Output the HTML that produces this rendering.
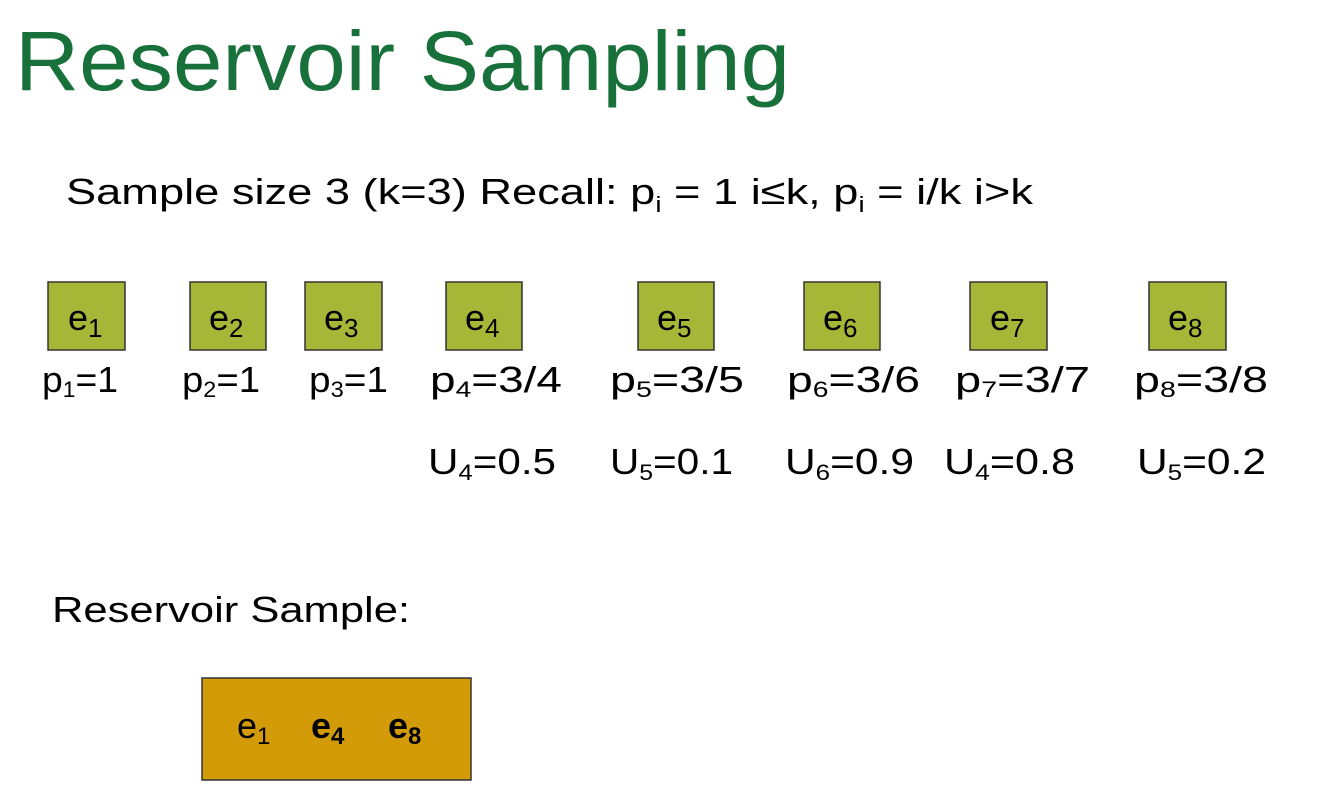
<!DOCTYPE html>
<html><head><meta charset="utf-8"><style>body{margin:0;background:#fff}svg{display:block}</style></head>
<body>
<svg width="1324" height="797" xmlns="http://www.w3.org/2000/svg" font-family="Liberation Sans, sans-serif">
<rect width="1324" height="797" fill="#fff"/>
<text x="15" y="90" font-size="84" fill="#18703a" textLength="775" lengthAdjust="spacingAndGlyphs">Reservoir Sampling</text>
<text x="66" y="204" font-size="36" fill="#000" textLength="967" lengthAdjust="spacingAndGlyphs">Sample size 3  (k=3)   Recall: p<tspan font-size="22" dy="8">i</tspan><tspan dy="-8"> = 1 i≤k, p</tspan><tspan font-size="22" dy="8">i</tspan><tspan dy="-8"> = i/k i&gt;k</tspan></text>
<g fill="#a6b738" stroke="#333" stroke-width="1.5">
<rect x="48" y="282" width="77" height="68"/>
<rect x="190" y="282" width="76" height="68"/>
<rect x="305" y="282" width="77" height="68"/>
<rect x="446" y="282" width="76" height="68"/>
<rect x="638" y="282" width="76" height="68"/>
<rect x="804" y="282" width="76" height="68"/>
<rect x="970" y="282" width="77" height="68"/>
<rect x="1149" y="282" width="77" height="68"/>
</g>
<g font-size="36" fill="#000">
<text x="68" y="330">e<tspan font-size="26" dy="7">1</tspan></text>
<text x="209" y="330">e<tspan font-size="26" dy="7">2</tspan></text>
<text x="324" y="330">e<tspan font-size="26" dy="7">3</tspan></text>
<text x="465" y="330">e<tspan font-size="26" dy="7">4</tspan></text>
<text x="657" y="330">e<tspan font-size="26" dy="7">5</tspan></text>
<text x="823" y="330">e<tspan font-size="26" dy="7">6</tspan></text>
<text x="990" y="330">e<tspan font-size="26" dy="7">7</tspan></text>
<text x="1168" y="330">e<tspan font-size="26" dy="7">8</tspan></text>
</g>
<g font-size="36" fill="#000" lengthAdjust="spacingAndGlyphs">
<text x="42" y="392" textLength="76" lengthAdjust="spacingAndGlyphs">p<tspan font-size="22" dy="5">1</tspan><tspan dy="-5">=1</tspan></text>
<text x="182" y="392" textLength="78" lengthAdjust="spacingAndGlyphs">p<tspan font-size="22" dy="5">2</tspan><tspan dy="-5">=1</tspan></text>
<text x="309" y="392" textLength="79" lengthAdjust="spacingAndGlyphs">p<tspan font-size="22" dy="5">3</tspan><tspan dy="-5">=1</tspan></text>
<text x="430" y="392" textLength="132" lengthAdjust="spacingAndGlyphs">p<tspan font-size="22" dy="5">4</tspan><tspan dy="-5">=3/4</tspan></text>
<text x="610" y="392" textLength="134" lengthAdjust="spacingAndGlyphs">p<tspan font-size="22" dy="5">5</tspan><tspan dy="-5">=3/5</tspan></text>
<text x="787" y="392" textLength="133" lengthAdjust="spacingAndGlyphs">p<tspan font-size="22" dy="5">6</tspan><tspan dy="-5">=3/6</tspan></text>
<text x="955" y="392" textLength="135" lengthAdjust="spacingAndGlyphs">p<tspan font-size="22" dy="5">7</tspan><tspan dy="-5">=3/7</tspan></text>
<text x="1134" y="392" textLength="134" lengthAdjust="spacingAndGlyphs">p<tspan font-size="22" dy="5">8</tspan><tspan dy="-5">=3/8</tspan></text>
<text x="428" y="474" textLength="128" lengthAdjust="spacingAndGlyphs">U<tspan font-size="22" dy="6">4</tspan><tspan dy="-6">=0.5</tspan></text>
<text x="610" y="474" textLength="123" lengthAdjust="spacingAndGlyphs">U<tspan font-size="22" dy="6">5</tspan><tspan dy="-6">=0.1</tspan></text>
<text x="785" y="474" textLength="129" lengthAdjust="spacingAndGlyphs">U<tspan font-size="22" dy="6">6</tspan><tspan dy="-6">=0.9</tspan></text>
<text x="944" y="474" textLength="131" lengthAdjust="spacingAndGlyphs">U<tspan font-size="22" dy="6">4</tspan><tspan dy="-6">=0.8</tspan></text>
<text x="1137" y="474" textLength="129" lengthAdjust="spacingAndGlyphs">U<tspan font-size="22" dy="6">5</tspan><tspan dy="-6">=0.2</tspan></text>
</g>
<text x="52" y="622" font-size="36" fill="#000" textLength="358" lengthAdjust="spacingAndGlyphs">Reservoir Sample:</text>
<rect x="202" y="678" width="269" height="102" fill="#d39b07" stroke="#333" stroke-width="1.5"/>
<g font-size="36" fill="#000">
<text x="237" y="738">e<tspan font-size="24" dy="6">1</tspan></text>
<text x="311" y="738" font-weight="bold">e<tspan font-size="24" dy="6">4</tspan></text>
<text x="388" y="738" font-weight="bold">e<tspan font-size="24" dy="6">8</tspan></text>
</g>
</svg>
</body></html>
